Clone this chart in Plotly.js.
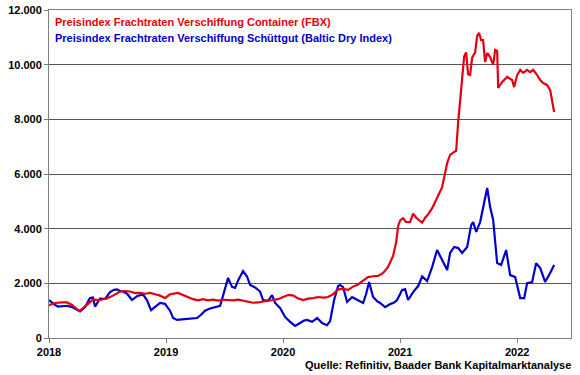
<!DOCTYPE html>
<html>
<head>
<meta charset="utf-8">
<script src="https://cdn.plot.ly/plotly-3.0.1.min.js"></script>
<style>html,body{margin:0;padding:0;background:#fff;}#chart{width:580px;height:375px;}</style>
</head>
<body>
<div id="chart"></div>
<script>
// Container freight index (FBX), time in decimal years
const fbxTime = [2018.000,2018.051,2018.111,2018.154,2018.197,2018.248,2018.265,2018.316,2018.376,2018.436,2018.496,2018.547,2018.607,2018.650,2018.692,2018.735,2018.778,2018.821,2018.863,2018.906,2018.949,2018.991,
2019.034,2019.103,2019.145,2019.188,2019.231,2019.274,2019.316,2019.359,2019.402,2019.444,2019.487,2019.530,2019.573,2019.615,2019.658,2019.701,2019.744,2019.786,2019.829,2019.872,2019.915,2019.957,
2020.000,2020.043,2020.085,2020.128,2020.171,2020.214,2020.256,2020.299,2020.342,2020.385,2020.427,2020.470,2020.513,2020.556,2020.598,2020.641,2020.684,2020.726,2020.769,2020.812,2020.855,2020.897,2020.940,2020.966,2020.983,
2021.000,2021.026,2021.051,2021.085,2021.111,2021.137,2021.162,2021.188,2021.214,2021.239,2021.274,2021.316,2021.359,2021.402,2021.427,2021.453,2021.479,2021.496,2021.513,2021.530,2021.547,2021.564,2021.581,2021.598,2021.615,2021.641,2021.658,2021.675,2021.692,2021.709,2021.726,2021.744,2021.769,2021.795,2021.812,2021.829,2021.838,2021.872,2021.915,2021.957,2021.974,
2022.000,2022.026,2022.051,2022.085,2022.111,2022.137,2022.171,2022.197,2022.222,2022.256,2022.282,2022.316];
const fbxValues = [1200,1280,1300,1300,1210,1020,1000,1200,1400,1390,1450,1550,1700,1720,1700,1640,1650,1620,1650,1600,1550,1460,
1600,1650,1580,1500,1420,1380,1420,1380,1400,1370,1400,1390,1380,1400,1370,1330,1290,1300,1340,1370,1390,1420,
1500,1570,1560,1450,1390,1440,1460,1500,1480,1500,1600,1780,1800,1760,1880,1960,2100,2230,2260,2270,2380,2600,3000,3500,4100,
4300,4380,4250,4240,4550,4400,4300,4220,4400,4520,4750,5120,5520,6400,6700,6780,6850,7900,8700,9800,10300,10450,9650,9620,10250,10450,11050,11160,10900,10900,10100,10430,10280,9990,10540,10500,9150,9370,9550,9440,9180,
9620,9810,9700,9810,9730,9810,9620,9440,9330,9260,9070,8270];

// Dry bulk freight index (Baltic Dry Index), time in decimal years
const bdiTime = [2018.000,2018.026,2018.051,2018.077,2018.111,2018.154,2018.197,2018.231,2018.265,2018.308,2018.350,2018.376,2018.393,2018.436,2018.479,2018.521,2018.556,2018.581,2018.607,2018.632,2018.667,2018.709,2018.752,2018.803,2018.838,2018.872,2018.906,2018.949,2018.991,
2019.034,2019.060,2019.094,2019.137,2019.179,2019.222,2019.265,2019.299,2019.333,2019.376,2019.419,2019.462,2019.487,2019.513,2019.530,2019.564,2019.590,2019.615,2019.658,2019.692,2019.718,2019.761,2019.803,2019.829,2019.872,2019.906,2019.932,2019.974,
2020.017,2020.060,2020.103,2020.145,2020.179,2020.205,2020.248,2020.291,2020.333,2020.376,2020.402,2020.436,2020.470,2020.487,2020.513,2020.547,2020.590,2020.632,2020.684,2020.709,2020.735,2020.769,2020.803,2020.829,2020.872,2020.915,2020.949,2020.974,
2021.000,2021.017,2021.043,2021.068,2021.111,2021.154,2021.188,2021.231,2021.274,2021.316,2021.359,2021.402,2021.427,2021.462,2021.496,2021.530,2021.573,2021.607,2021.624,2021.650,2021.684,2021.709,2021.744,2021.769,2021.795,2021.829,2021.863,2021.906,2021.940,2021.983,
2022.026,2022.060,2022.085,2022.128,2022.162,2022.197,2022.239,2022.282,2022.316];
const bdiValues = [1390,1280,1210,1150,1170,1180,1130,1050,970,1130,1460,1480,1150,1440,1430,1680,1760,1780,1720,1700,1620,1390,1530,1600,1380,1020,1130,1280,1250,
1000,730,660,680,700,720,730,850,1000,1080,1120,1180,1550,2000,2200,1870,1830,2100,2450,2250,1940,1850,1700,1390,1360,1570,1280,1100,
770,590,440,550,640,660,590,730,550,470,620,1390,1900,1940,1860,1320,1500,1400,1280,1600,2050,1500,1350,1280,1130,1240,1300,1390,
1600,1760,1790,1390,1680,1900,2250,2080,2600,3220,2850,2490,3110,3330,3290,3110,3330,4130,4240,3880,4250,4790,5490,4790,4320,2740,2670,3220,2300,2230,
1460,1460,2010,2050,2740,2560,2050,2380,2670];

const yearTicks = [2018, 2019, 2020, 2021, 2022];
const yearLabels = ['2018', '2019', '2020', '2021', '2022'];
const yTicks = [0, 2000, 4000, 6000, 8000, 10000, 12000];

const seriesNames = ['Preisindex Frachtraten Verschiffung Container (FBX)',
                     'Preisindex Frachtraten Verschiffung Schüttgut (Baltic Dry Index)'];
const red = '#e3000f';
const blue = '#0000cc';
const fontFam = '"Liberation Sans", Arial, sans-serif';

const traces = [
  {x: bdiTime, y: bdiValues, type: 'scatter', mode: 'lines', name: seriesNames[1],
   line: {color: blue, width: 2.2}, hoverinfo: 'skip'},
  {x: fbxTime, y: fbxValues, type: 'scatter', mode: 'lines', name: seriesNames[0],
   line: {color: red, width: 2.2}, hoverinfo: 'skip'}
];

const layout = {
  width: 580, height: 375,
  margin: {l: 49, r: 9, t: 10, b: 37},
  paper_bgcolor: '#fff', plot_bgcolor: '#fff',
  separators: ',.',
  showlegend: false,
  font: {family: fontFam, size: 11, color: '#000'},
  xaxis: {
    range: [2018, 2022.46], tickvals: yearTicks, ticktext: yearLabels,
    showgrid: false, zeroline: false,
    showline: true, mirror: true, linecolor: '#7f7f7f', linewidth: 1,
    ticks: 'outside', ticklen: 4, tickcolor: '#7f7f7f',
    tickfont: {family: fontFam, size: 11, color: '#000', weight: 'bold'}
  },
  yaxis: {
    range: [0, 12000], tickvals: yTicks, tickformat: ',d',
    showgrid: true, gridcolor: '#555', gridwidth: 1, zeroline: false,
    showline: true, mirror: true, linecolor: '#7f7f7f', linewidth: 1,
    ticks: 'outside', ticklen: 4, tickcolor: '#7f7f7f',
    tickfont: {family: fontFam, size: 11, color: '#000', weight: 'bold'}
  },
  annotations: [
    {xref: 'paper', yref: 'paper', x: 0.008, y: 0.988, xanchor: 'left', yanchor: 'top',
     text: seriesNames[0], showarrow: false,
     font: {family: fontFam, size: 11, color: red, weight: 'bold'}},
    {xref: 'paper', yref: 'paper', x: 0.008, y: 0.940, xanchor: 'left', yanchor: 'top',
     text: seriesNames[1], showarrow: false,
     font: {family: fontFam, size: 11, color: blue, weight: 'bold'}},
    {xref: 'paper', yref: 'paper', x: 1.003, y: -0.083, xanchor: 'right', yanchor: 'middle',
     text: 'Quelle: Refinitiv, Baader Bank Kapitalmarktanalyse', showarrow: false,
     font: {family: fontFam, size: 11, color: '#000', weight: 'bold'}}
  ]
};

Plotly.newPlot('chart', traces, layout, {displayModeBar: false, staticPlot: true});
</script>
</body>
</html>
